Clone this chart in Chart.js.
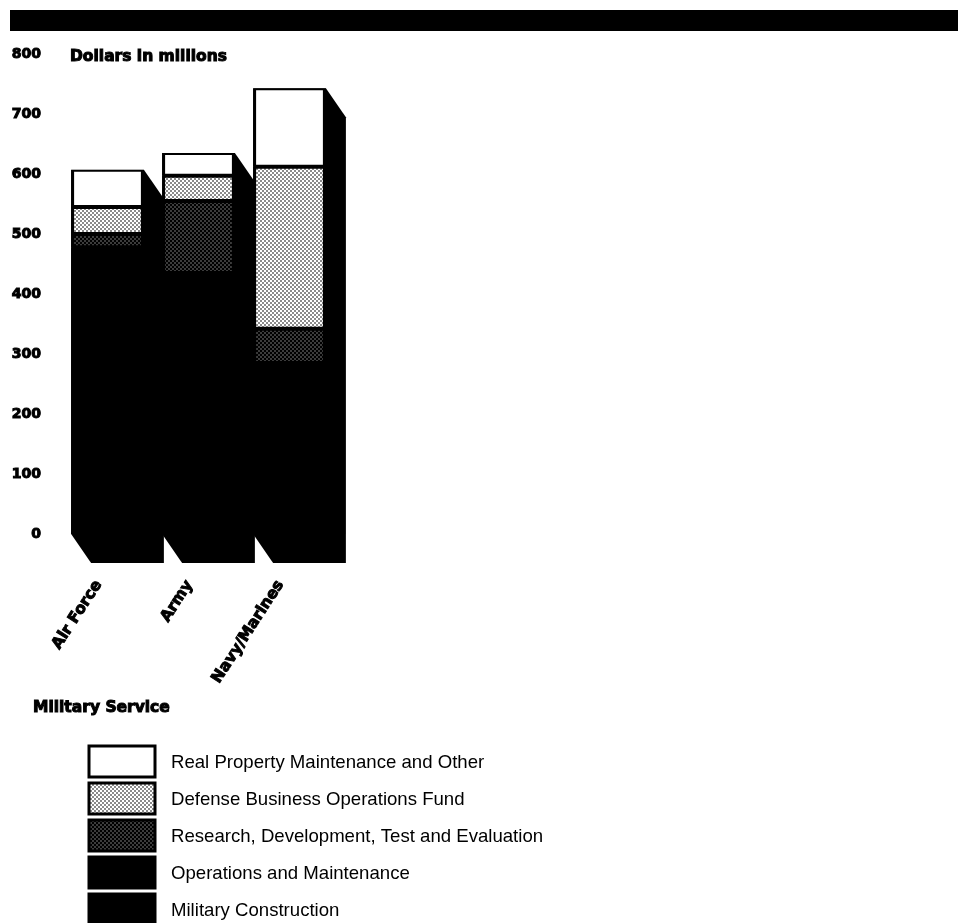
<!DOCTYPE html>
<html>
<head>
<meta charset="utf-8">
<title>Military Service funding</title>
<script src="https://cdn.jsdelivr.net/npm/chart.js@4/dist/chart.umd.min.js"></script>
<style>
    html, body { margin: 0; padding: 0; background: #fff; }
    canvas { display: block; filter: blur(0.5px); }
</style>
</head>
<body>
<canvas id="chart" width="958" height="923"></canvas>
<script>
// values, dollars in millions
const services = ['Air Force', 'Army', 'Navy/Marines'];
const militaryConstruction = [40, 30, 40];
const operationsMaintenance = [438, 405, 245];
const researchDevelopment = [22, 120, 57];
const businessOperations = [45, 42, 270];
const realProperty = [62, 38, 131];

const seriesNames = [
    'Military Construction',
    'Operations and Maintenance',
    'Research, Development, Test and Evaluation',
    'Defense Business Operations Fund',
    'Real Property Maintenance and Other'
];

const HEADING_FONT = 'bold 15.5px "DejaVu Sans"';
const LABEL_FONT = '18.6px "Liberation Sans"';
const DEPTH_X = 20;
const DEPTH_Y = 29;

function dots(background, dot) {
    const tile = document.createElement('canvas');
    tile.width = 4;
    tile.height = 4;
    const c = tile.getContext('2d');
    c.fillStyle = background;
    c.fillRect(0, 0, 4, 4);
    c.fillStyle = dot;
    c.fillRect(0, 0, 2, 2);
    c.fillRect(2, 2, 2, 2);
    return c.createPattern(tile, 'repeat');
}

const lightDots = dots('#ffffff', '#8a8a8a');
const darkDots = dots('#000000', '#3c3c3c');

// side and floor of each column, taken from the bars the chart laid out
const depthPlugin = {
    id: 'depth',
    beforeDatasetsDraw(chart) {
        const ctx = chart.ctx;
        const last = chart.data.datasets.length - 1;
        services.forEach((name, i) => {
            const top = chart.getDatasetMeta(last).data[i];
            const bottom = chart.getDatasetMeta(0).data[i];
            const half = top.width / 2;
            const left = top.x - half;
            const right = top.x + half;
            ctx.fillStyle = '#000';
            ctx.beginPath();
            ctx.moveTo(right, top.y);
            ctx.lineTo(right + DEPTH_X, top.y + DEPTH_Y);
            ctx.lineTo(right + DEPTH_X, bottom.base + DEPTH_Y);
            ctx.lineTo(left + DEPTH_X, bottom.base + DEPTH_Y);
            ctx.lineTo(left, bottom.base);
            ctx.lineTo(left, top.y);
            ctx.closePath();
            ctx.fill();
        });
    }
};

// heading band, axis captions and the key under the chart
const furniturePlugin = {
    id: 'furniture',
    afterDraw(chart) {
        const ctx = chart.ctx;
        ctx.save();
        ctx.fillStyle = '#000';
        ctx.fillRect(10, 10, 948, 21);

        ctx.textBaseline = 'middle';
        ctx.textAlign = 'left';
        ctx.font = HEADING_FONT;
        ctx.strokeStyle = '#000';
        ctx.lineWidth = 1;
        ctx.fillText('Dollars in millions', 70, 57);
        ctx.strokeText('Dollars in millions', 70, 57);
        ctx.fillText('Military Service', 33, 708);
        ctx.strokeText('Military Service', 33, 708);

        ctx.font = LABEL_FONT;
        chart.data.datasets.slice().reverse().forEach((set, i) => {
            const y = 746 + i * 37;
            const h = Math.min(31, 923 - y);
            ctx.fillStyle = set.backgroundColor;
            ctx.fillRect(89, y, 66, h);
            ctx.lineWidth = 3;
            ctx.strokeRect(89, y, 66, h);
            ctx.fillStyle = '#000';
            ctx.fillText(set.label, 171, y + 17);
        });
        ctx.restore();
    }
};

const fills = ['#000', '#000', darkDots, lightDots, '#fff'];
const values = [militaryConstruction, operationsMaintenance, researchDevelopment, businessOperations, realProperty];

new Chart(document.getElementById('chart'), {
    type: 'bar',
    data: {
        labels: services,
        datasets: seriesNames.map((label, i) => ({
            label: label,
            data: values[i],
            backgroundColor: fills[i],
            borderColor: '#000',
            borderWidth: { top: 2, bottom: 2, left: 3, right: 3 },
            borderSkipped: false,
            barPercentage: 1,
            categoryPercentage: 0.8
        }))
    },
    options: {
        responsive: false,
        animation: false,
        layout: { padding: { top: 54, right: 623, left: 0, bottom: 0 } },
        plugins: {
            legend: { display: false },
            tooltip: { enabled: false }
        },
        scales: {
            x: {
                stacked: true,
                grid: { display: false },
                border: { display: false },
                afterFit(scale) { scale.height = 389; },
                ticks: {
                    color: '#000',
                    font: { family: 'DejaVu Sans', weight: 'bold', size: 15.5 },
                    textStrokeColor: '#000',
                    textStrokeWidth: 1,
                    minRotation: 57,
                    maxRotation: 57,
                    padding: 35,
                    labelOffset: -9,
                    autoSkip: false
                }
            },
            y: {
                stacked: true,
                min: 0,
                max: 800,
                grid: { display: false },
                border: { display: false },
                afterFit(scale) { scale.width = 62; },
                ticks: {
                    color: '#000',
                    font: { family: 'DejaVu Sans', weight: 'bold', size: 14 },
                    textStrokeColor: '#000',
                    textStrokeWidth: 1,
                    stepSize: 100,
                    padding: 13
                }
            }
        }
    },
    plugins: [depthPlugin, furniturePlugin]
});
</script>
</body>
</html>
